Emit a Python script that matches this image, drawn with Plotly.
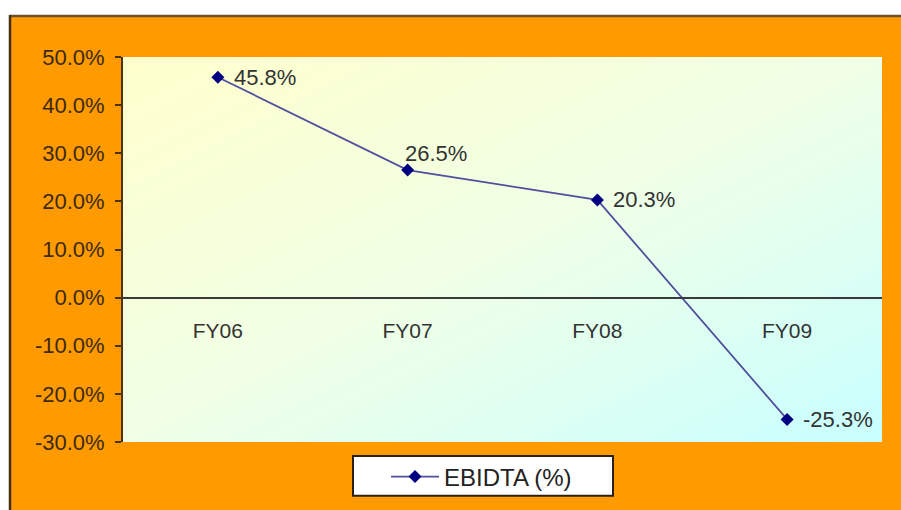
import base64
import plotly.graph_objects as go

# EBIDTA margin by fiscal year
years = ["FY06", "FY07", "FY08", "FY09"]
ebidta = [0.458, 0.265, 0.203, -0.253]
label_pos = ["right", "top", "right", "right"]

# value-axis ticks
y_ticks = [0.5, 0.4, 0.3, 0.2, 0.1, 0.0, -0.1, -0.2, -0.3]
y_tick_text = [f"{t:.1%}".replace("-0.0%", "0.0%") for t in y_ticks]

W, H = 901, 510
M_L, M_R, M_T, M_B = 123, 19, 57, 67
PW, PH = W - M_L - M_R, H - M_T - M_B


def px_x(px):
    return (px - M_L) / PW


def px_y(py):
    return (H - M_B - py) / PH


FONT = "Arial, Liberation Sans, sans-serif"
ORANGE = "#FF9A00"
BROWN = "#6e5230"

fig = go.Figure()
fig.add_trace(go.Scatter(
    x=years, y=ebidta, mode="lines+markers", name="EBIDTA (%)",
    line=dict(color="#50509e", width=1.8),
    marker=dict(symbol="diamond", size=10, color="#000080"),
))

# value labels beside each point
for cat, v, pos in zip(years, ebidta, label_pos):
    if pos == "top":
        fig.add_annotation(x=cat, y=v, text=f"{v:.1%}", showarrow=False,
                           xanchor="left", yanchor="bottom", xshift=-5, yshift=2,
                           font=dict(family=FONT, size=22, color="#333333"))
    else:
        fig.add_annotation(x=cat, y=v, text=f"{v:.1%}", showarrow=False,
                           xanchor="left", yanchor="middle", xshift=14,
                           font=dict(family=FONT, size=22, color="#333333"))

# diagonal yellow-to-cyan plot fill
svg = ('<svg xmlns="http://www.w3.org/2000/svg" width="100" height="100" preserveAspectRatio="none">'
       '<defs><linearGradient id="g" x1="0" y1="0" x2="1" y2="1">'
       '<stop offset="0" stop-color="#FFFFCC"/><stop offset="0.5" stop-color="#F0FFE6"/>'
       '<stop offset="1" stop-color="#C8FFFF"/></linearGradient></defs>'
       '<rect width="100" height="100" fill="url(#g)"/></svg>')
fig.add_layout_image(dict(
    source="data:image/svg+xml;base64," + base64.b64encode(svg.encode()).decode(),
    xref="paper", yref="paper", x=0, y=1, sizex=1, sizey=1,
    sizing="stretch", layer="below", xanchor="left", yanchor="top"))

# white page strip above and left of the orange panel, with the panel's dark edge
fig.add_shape(type="rect", xref="paper", yref="paper", x0=px_x(-5), x1=px_x(W + 5),
              y0=px_y(15), y1=px_y(-5), fillcolor="white", line_width=0, layer="below")
fig.add_shape(type="rect", xref="paper", yref="paper", x0=px_x(-5), x1=px_x(9),
              y0=px_y(H + 5), y1=px_y(-5), fillcolor="white", line_width=0, layer="below")
fig.add_shape(type="line", xref="paper", yref="paper", x0=px_x(10), x1=px_x(W + 5),
              y0=px_y(16), y1=px_y(16), line=dict(color=BROWN, width=2.5), layer="below")
fig.add_shape(type="line", xref="paper", yref="paper", x0=px_x(10), x1=px_x(10),
              y0=px_y(15), y1=px_y(H + 5), line=dict(color="#4a2e10", width=2.5), layer="below")

# legend box
fig.add_shape(type="rect", xref="paper", yref="paper", x0=px_x(353), x1=px_x(613),
              y0=px_y(497), y1=px_y(457), fillcolor="white",
              line=dict(color="#2a2018", width=2), layer="below")

fig.update_layout(
    width=W, height=H,
    margin=dict(l=M_L, r=M_R, t=M_T, b=M_B),
    paper_bgcolor=ORANGE, plot_bgcolor="rgba(0,0,0,0)",
    font=dict(family=FONT),
    showlegend=True,
    legend=dict(x=px_x(386), y=px_y(477), xanchor="left", yanchor="middle",
                orientation="h", bgcolor="rgba(0,0,0,0)", itemwidth=48,
                font=dict(family=FONT, size=24, color="#222222")),
    xaxis=dict(type="category", range=[-0.5, 3.5], anchor="free", position=0.375,
               showline=True, linecolor="#3a3a3a", linewidth=1.5, ticks="",
               showgrid=False, zeroline=False, ticklabelstandoff=14,
               tickfont=dict(family=FONT, size=21, color="#333333")),
    yaxis=dict(range=[-0.30, 0.50], tickvals=y_ticks, ticktext=y_tick_text,
               showline=True, linecolor="#4a3415", linewidth=2,
               ticks="outside", ticklen=6, tickcolor="#4a3415", tickwidth=2,
               showgrid=False, zeroline=False, ticklabelstandoff=6,
               tickfont=dict(family=FONT, size=22, color="#3b2a10")),
)

fig.write_html("out.html")
